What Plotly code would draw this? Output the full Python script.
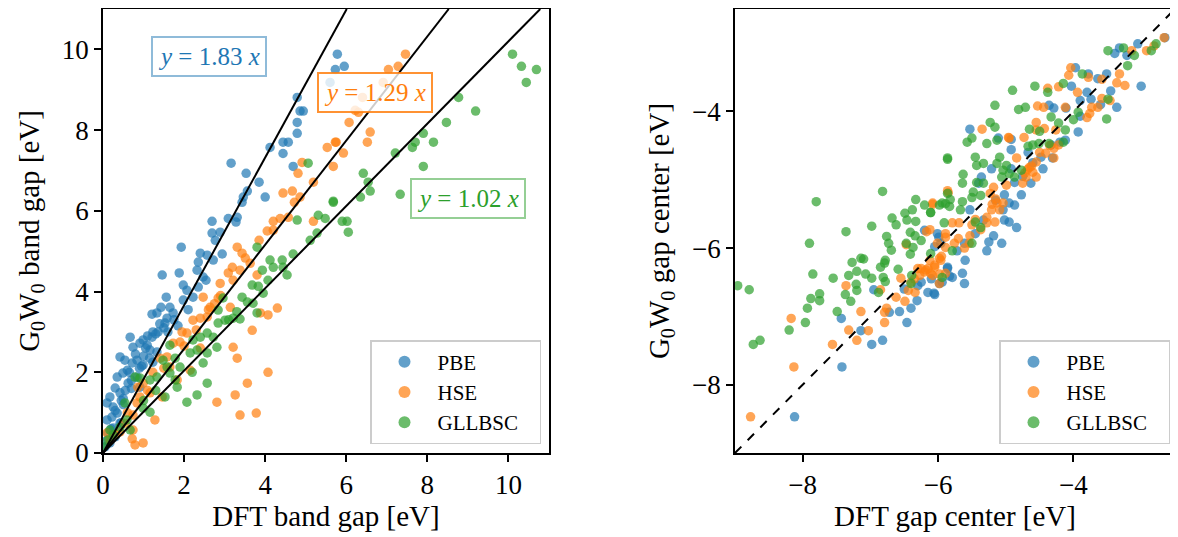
import plotly.graph_objects as go

# ---------------- Left panel: band gaps ----------------
pbe_gap_dft = [5.78,5.95,5.73,5.6,4.79,4.86,4.94,4.79,4.79,4.12,4.44,4.57,4.44,4.69,3.16,3.53,3.85,4.0,3.56,3.46,3.43,
               2.69,3.09,3.31,3.28,2.69,2.89,2.77,1.93,2.4,2.57,2.35,2.94,2.72,2.32,2.47,2.54,1.46,1.88,1.98,2.07,2.35,
               2.22,1.56,1.98,1.43,1.65,1.73,1.21,1.33,1.58,1.53,1.23,1.36,1.21,0.99,0.67,0.74,0.91,1.09,1.16,1.33,0.42,
               0.54,0.72,0.84,0.99,1.23,0.35,0.49,0.62,0.84,0.91,0.3,0.42,0.17,0.1,0.25,0.22,0.1,0.35,0.25,0.42,0.12,0.3,
               0.17,0.6,0.8,1.0,1.1,0.5,0.7,1.3,1.5,0.05,0.08,1.4,1.6,1.75,1.05,0.65,0.45,2.1,1.85,0.95,0.55,
               0.3,0.5,0.7,0.9,1.15,0.2,0.45]
pbe_gap_gw = [9.88,9.58,9.5,9.18,8.81,8.47,8.47,8.19,7.92,7.57,7.7,7.7,7.42,7.1,7.18,6.93,6.71,6.34,6.49,6.34,6.21,
              5.74,5.81,5.84,5.72,5.45,5.47,5.27,5.1,4.95,4.9,4.73,4.93,4.78,4.53,4.36,4.28,4.41,4.46,4.16,4.03,4.11,
              3.86,3.86,3.79,3.61,3.61,3.47,3.44,3.47,3.34,3.22,3.0,3.0,2.87,2.8,2.87,2.62,2.72,2.67,2.55,2.5,2.38,
              2.3,2.23,2.3,2.18,2.25,1.88,1.98,1.73,1.88,1.63,1.61,1.49,1.39,1.24,1.14,0.89,0.82,0.99,0.62,0.74,0.5,0.4,
              0.25,2.05,2.45,2.4,2.9,1.2,1.6,2.95,3.1,0.15,0.3,3.2,3.0,3.3,2.6,2.0,1.3,3.55,3.15,2.15,1.55,
              1.05,1.35,1.8,2.1,2.35,0.6,0.75]

hse_gap_dft = [7.46,7.28,7.04,6.91,6.4,6.22,6.3,6.07,6.59,6.52,5.73,5.93,5.68,5.53,5.75,4.91,4.81,5.19,4.44,4.67,4.72,
               4.86,4.2,4.37,4.57,4.05,4.2,5.19,3.85,3.31,3.43,3.51,3.63,3.19,3.38,3.09,3.8,2.89,3.21,2.47,2.64,2.84,
               2.22,2.4,2.57,3.14,3.88,4.07,4.3,3.68,1.95,2.07,1.73,1.9,3.21,3.31,2.4,1.41,1.58,4.07,3.56,3.26,2.81,
               3.38,3.78,1.23,0.99,0.86,0.91,0.84,1.28,0.74,0.54,0.74,0.99,0.79,0.72,0.1,0.17,0.42,1.46,1.16,1.83,2.15,
               1.65,2.6,2.75,1.1,0.6,2.0,2.3,1.5,0.3,2.9]
hse_gap_gw = [9.88,9.58,9.5,9.18,8.81,8.49,8.44,8.19,7.95,7.7,7.7,7.43,7.1,7.57,7.7,7.2,6.93,6.71,6.44,6.49,6.21,
              6.34,5.74,5.81,5.84,5.5,5.52,5.74,5.27,5.1,4.95,4.83,4.7,4.6,4.53,4.46,4.41,4.2,4.28,3.86,3.61,3.84,
              3.29,3.34,3.37,3.61,3.47,3.42,3.59,3.04,3.0,2.97,2.72,2.75,2.62,2.35,2.6,2.35,2.38,2.0,1.73,1.44,1.26,
              0.94,0.99,2.0,1.73,1.63,1.39,1.24,0.82,0.94,0.74,0.57,0.25,0.2,0.35,0.5,0.32,0.52,1.39,1.49,1.81,2.05,
              2.13,3.55,3.7,1.55,1.0,2.65,3.05,2.1,0.45,3.9]

gll_gap_dft = [10.1,10.32,10.69,10.44,8.77,9.19,8.47,7.9,7.7,8.15,7.63,7.21,7.9,6.42,6.54,6.59,6.35,7.33,5.68,5.9,6.05,
               5.06,5.68,5.31,5.48,6.02,5.28,5.11,4.79,4.69,4.42,4.44,4.2,4.12,4.54,3.8,3.93,4.07,3.68,3.83,3.95,3.43,
               3.56,3.7,3.8,2.96,2.84,3.01,2.84,3.21,3.38,2.57,2.4,2.22,2.72,2.81,2.32,2.57,2.15,1.65,1.78,1.58,1.9,2.2,
               2.47,1.48,1.83,1.78,1.65,1.33,1.16,0.91,0.79,2.07,2.32,2.57,1.53,1.16,0.99,0.54,0.59,0.42,0.67,0.25,0.12,
               0.0,0.17,3.1,3.3,1.3,1.0]
gll_gap_gw = [9.88,9.58,9.5,9.18,8.81,8.47,8.19,7.92,7.7,7.7,7.57,7.43,7.1,6.93,6.71,6.49,6.34,6.41,6.24,5.74,5.47,
              7.18,6.21,5.89,5.81,5.74,5.45,5.27,5.77,4.93,4.78,4.6,4.6,4.78,4.41,5.1,4.53,4.28,4.16,4.13,3.96,3.86,
              3.74,3.71,3.47,3.84,3.54,3.29,3.22,3.34,3.32,2.97,2.87,2.8,2.87,2.62,2.55,2.48,2.48,2.67,2.35,2.13,2.13,2.0,
              2.23,2.3,1.63,1.81,1.98,1.88,1.81,1.86,1.88,1.26,1.44,1.73,1.39,1.01,1.11,1.24,0.82,0.64,0.57,0.45,0.32,
              0.15,0.57,3.3,3.5,1.55,1.3]

# ---------------- Right panel: gap centers ----------------
pbe_c_dft = [-6.2,-6.05,-5.99,-5.86,-5.83,-5.98,-6.15,-6.05,-6.95,-6.31,-6.4,-6.57,-6.72,-7.43,-6.46,-7.14,-6.82,-6.98,
             -7.42,-8.12,-2.65,-3.05,-3.32,-3.39,-3.21,-3.0,-3.97,-3.78,-4.03,-3.64,-3.51,-3.8,-3.9,-3.74,-3.36,-3.9,
             -4.36,-4.29,-4.11,-3.93,-5.53,-5.11,-4.92,-4.12,-4.33,-4.92,-4.67,-4.48,-4.31,-5.21,-4.92,-4.45,-5.36,
             -5.4,-4.87,-4.63,-5.02,-4.77,-4.95,-5.53,-5.04,-4.87,-5.33,-5.02,-4.95,-4.84,-5.18,-5.06,-5.25,-5.28,
             -5.45,-5.61,-5.72,-5.6,-5.86,-5.79,-5.64,-5.61,-6.06,-5.94,-6.01,-5.96,-6.3,-6.5,-6.1,-6.25,
             -4.6,-4.75,-5.15,-3.6,-3.45,-4.2]
pbe_c_gw = [-5.74,-5.98,-5.84,-6.3,-6.41,-6.52,-6.65,-6.68,-6.61,-6.77,-6.88,-6.93,-6.94,-7.03,-7.09,-7.21,-7.35,-7.41,
            -7.74,-8.47,-2.92,-3.01,-3.07,-3.15,-3.18,-3.63,-3.36,-3.45,-3.63,-3.52,-3.45,-3.72,-3.84,-3.82,-3.94,-4.07,
            -3.91,-3.95,-3.95,-4.3,-4.26,-4.39,-4.41,-4.42,-4.49,-4.56,-4.6,-4.67,-4.68,-4.84,-4.84,-4.84,-4.96,
            -5.05,-5.04,-5.05,-5.22,-5.22,-5.34,-5.44,-5.44,-5.37,-5.59,-5.59,-5.62,-5.7,-5.82,-5.93,-5.91,-6.04,
            -5.79,-5.93,-6.04,-6.18,-6.28,-6.43,-6.37,-6.52,-6.66,-6.5,-5.79,-5.93,-6.55,-6.6,-6.45,-6.5,
            -4.75,-4.95,-5.3,-3.9,-3.7,-4.45]

hse_c_dft = [-5.85,-6.08,-6.17,-6.47,-5.89,-5.89,-6.12,-5.98,-6.05,-6.18,-6.27,-6.08,-5.98,-5.89,-6.55,-7.36,-6.85,-6.44,
             -6.34,-6.62,-6.49,-6.76,-7.14,-6.79,-6.79,-8.17,-7.32,-7.03,-7.2,-7.56,-8.13,-8.77,-2.66,-2.81,-2.92,-3.14,
             -3.32,-3.24,-3.36,-3.58,-4.04,-4.07,-3.78,-3.94,-4.38,-4.22,-3.58,-3.46,-3.64,-3.73,-3.76,-3.8,-4.53,-4.44,
             -4.12,-5.35,-4.55,-4.95,-4.73,-4.26,-4.43,-4.55,-4.22,-4.29,-4.41,-4.29,-4.55,-4.65,-4.6,-4.7,-4.55,-4.84,
             -4.75,-4.99,-5.18,-5.23,-5.13,-5.04,-5.21,-5.09,-5.28,-5.16,-5.28,-5.37,-5.53,-5.54,-5.61,-5.76,-5.79,-5.69,
             -5.89,-6.01,-5.96,-6.05,-6.11,-5.98,-6.08,-5.86,-6.12,-4.96,-6.3,-6.2,-6.35,-6.4,-6.25,
             -4.68,-4.62,-4.72,-5.15,-5.2,-5.45,-5.5,-5.7,-5.95,-6.15,-4.5,-4.35]
hse_c_gw = [-5.19,-5.36,-5.76,-5.95,-5.84,-5.99,-6.18,-6.15,-6.25,-6.32,-6.4,-6.4,-6.38,-6.37,-6.44,-6.55,-6.61,-6.62,
            -6.65,-6.72,-6.78,-6.88,-6.93,-6.94,-7.09,-7.03,-7.2,-7.21,-7.35,-7.41,-7.74,-8.47,-2.92,-3.04,-3.11,-3.11,
            -3.45,-3.62,-3.58,-3.53,-3.36,-3.47,-3.5,-3.72,-3.66,-3.64,-3.81,-3.84,-3.94,-3.94,-4.03,-4.09,-3.92,-3.94,
            -3.94,-4.26,-4.16,-4.39,-4.38,-4.27,-4.25,-4.27,-4.49,-4.54,-4.61,-4.68,-4.74,-4.82,-4.89,-4.96,-4.96,-4.68,
            -5.05,-5.08,-5.11,-5.2,-5.34,-5.34,-5.44,-5.44,-5.55,-5.62,-5.63,-5.73,-5.82,-5.93,-6.0,-5.93,-5.63,-5.63,
            -5.79,-5.93,-6.18,-6.28,-6.37,-6.52,-5.34,-5.16,-5.73,-4.38,-6.3,-6.35,-6.45,-6.5,-6.3,
            -4.85,-4.8,-4.9,-5.28,-5.36,-5.58,-5.66,-5.86,-6.12,-6.3,-4.6,-4.5]

gll_c_dft = [-5.86,-6.82,-7.8,-6.33,-6.2,-6.11,-5.98,-5.89,-6.49,-6.38,-6.68,-6.62,-6.46,-6.33,-7.36,-6.98,-6.41,-6.76,
             -6.34,-6.25,-7.9,-6.73,-6.47,-6.37,-6.69,-6.41,-7.14,-7.1,-7.27,-6.78,-6.79,-6.85,-6.59,-7.2,-7.07,-7.32,
             -7.85,-7.55,-6.98,-6.81,-6.78,-7.21,-8.96,-8.79,-7.2,-7.37,-6.88,-7.75,-7.88,-7.75,-7.29,-7.93,-7.49,-7.96,
             -8.2,-8.63,-8.73,-6.39,-6.4,-3.49,-3.26,-2.85,-2.78,-3.1,-3.2,-3.87,-4.15,-4.9,-4.57,-4.38,-5.16,-4.81,-4.71,
             -3.51,-3.49,-3.93,-4.0,-4.22,-4.12,-4.33,-5.23,-5.16,-4.65,-4.5,-5.57,-5.5,-5.28,-5.13,-4.67,-4.6,-4.51,-4.36,
             -4.15,-5.86,-5.45,-5.33,-5.09,-5.43,-5.13,-4.99,-5.04,-4.95,-4.77,-5.63,-5.06,-4.87,-5.64,-5.43,-5.33,-5.48,
             -5.5,-5.37,-5.86,-5.94,-5.82,-5.83,-5.64,-5.67,-6.11,-5.91,-5.45,-5.37,-5.79,-5.5,-6.11,-5.94]
gll_c_gw = [-4.7,-5.17,-5.32,-5.29,-5.37,-5.48,-5.37,-5.35,-5.49,-5.44,-5.56,-5.66,-5.59,-5.61,-5.76,-5.68,-5.77,-5.83,
            -5.82,-5.89,-5.93,-5.93,-5.93,-5.99,-6.03,-6.09,-6.15,-6.16,-6.21,-6.18,-6.22,-6.28,-6.31,-6.34,-6.38,-6.4,
            -6.38,-6.44,-6.44,-6.43,-6.49,-6.53,-6.55,-6.61,-6.62,-6.68,-6.65,-6.67,-6.74,-6.77,-6.78,-6.88,-6.93,-7.09,
            -7.2,-7.35,-7.41,-6.4,-6.52,-3.11,-3.07,-3.11,-3.01,-3.18,-3.33,-3.45,-3.59,-3.69,-3.63,-3.72,-3.91,-3.97,-3.94,
            -4.11,-3.82,-4.01,-4.12,-4.17,-4.27,-4.08,-4.16,-4.23,-4.26,-4.29,-4.45,-4.39,-4.47,-4.42,-4.51,-4.49,-4.47,-4.47,
            -4.45,-4.68,-4.67,-4.76,-4.67,-4.79,-4.76,-4.79,-4.86,-4.91,-4.86,-4.92,-4.96,-4.96,-5.05,-5.04,-5.05,-5.18,
            -5.26,-5.23,-5.2,-5.34,-5.29,-5.39,-5.32,-5.44,-5.48,-5.63,-5.62,-5.7,-6.04,-5.93,-6.08,-6.43]

methods = ["PBE", "HSE", "GLLBSC"]
colors = ["#1f77b4", "#ff7f0e", "#2ca02c"]
slopes = [1.83, 1.29, 1.02]
slope_text = ["1.83", "1.29", "1.02"]

FONT = "Liberation Serif"
OFF = 8                      # page body margin
W, H = 1178 - OFF, 537 - OFF
PAD = "\u00a0\u00a0\u00a0"    # widen legend box slightly


def px(x):
    return (x - OFF) / W


def py(y):
    return 1 - (y - OFF) / H


fig = go.Figure()

left_data = [(pbe_gap_dft, pbe_gap_gw), (hse_gap_dft, hse_gap_gw), (gll_gap_dft, gll_gap_gw)]
right_data = [(pbe_c_dft, pbe_c_gw), (hse_c_dft, hse_c_gw), (gll_c_dft, gll_c_gw)]

for name, col, (xs, ys) in zip(methods, colors, left_data):
    fig.add_trace(go.Scatter(x=xs, y=ys, mode="markers", name=name + PAD, legend="legend",
                             marker=dict(color=col, size=9.5, opacity=0.7, line=dict(width=0)),
                             xaxis="x", yaxis="y"))

for s in slopes:
    xe = min(11.0 / s, 11.0)
    fig.add_trace(go.Scatter(x=[0, xe], y=[0, s * xe], mode="lines", showlegend=False,
                             line=dict(color="black", width=2), xaxis="x", yaxis="y", hoverinfo="skip"))

for name, col, (xs, ys) in zip(methods, colors, right_data):
    fig.add_trace(go.Scatter(x=xs, y=ys, mode="markers", name=name + PAD, legend="legend2",
                             marker=dict(color=col, size=9.5, opacity=0.7, line=dict(width=0)),
                             xaxis="x2", yaxis="y2"))

fig.add_trace(go.Scatter(x=[-9, -2.5], y=[-9, -2.5], mode="lines", showlegend=False,
                         line=dict(color="black", width=2, dash="dash"), xaxis="x2", yaxis="y2",
                         hoverinfo="skip"))

ann_pos = [(2.62, 9.83), (6.72, 8.94), (9.01, 6.31)]
border_cols = ["rgba(31,119,180,0.5)", "rgba(255,127,14,0.85)", "rgba(44,160,44,0.5)"]
annotations = []
for st, col, bc, (ax_, ay_) in zip(slope_text, colors, border_cols, ann_pos):
    annotations.append(dict(x=ax_, y=ay_, xref="x", yref="y",
                            text="<i>y</i> = " + st + " <i>x</i>", showarrow=False,
                            font=dict(family=FONT, size=25, color=col),
                            bgcolor="rgba(255,255,255,0.8)", bordercolor=bc, borderwidth=2,
                            borderpad=5))

axis_common = dict(showline=True, linecolor="black", linewidth=1.5, mirror=True,
                   ticks="outside", ticklen=7, tickwidth=1.5, tickcolor="black",
                   showgrid=False, zeroline=False, automargin=False,
                   tickfont=dict(family=FONT, size=27, color="black"),
                   title_font=dict(family=FONT, size=29, color="black"))

legend_common = dict(font=dict(family=FONT, size=21, color="black"),
                     bgcolor="rgba(255,255,255,0.8)", bordercolor="#cccccc", borderwidth=1.5,
                     xanchor="right", yanchor="bottom", itemsizing="constant", itemwidth=56,
                     tracegroupgap=0)

fig.update_layout(
    width=W, height=H,
    margin=dict(l=0, r=0, t=0, b=0, autoexpand=False),
    plot_bgcolor="white", paper_bgcolor="white",
    xaxis=dict(axis_common, domain=[px(103), px(549)], range=[0, 11], tickvals=[0, 2, 4, 6, 8, 10],
               title=dict(text="DFT band gap [eV]", standoff=6), anchor="y"),
    yaxis=dict(axis_common, domain=[py(453), py(9)], range=[0, 11], tickvals=[0, 2, 4, 6, 8, 10],
               title=dict(text="G<sub>0</sub>W<sub>0</sub> band gap [eV]", standoff=14), anchor="x"),
    xaxis2=dict(axis_common, domain=[px(735), px(1175)], range=[-9, -2.5], tickvals=[-8, -6, -4],
                title=dict(text="DFT gap center [eV]", standoff=6), anchor="y2"),
    yaxis2=dict(axis_common, domain=[py(453), py(9)], range=[-9, -2.5], tickvals=[-8, -6, -4],
                title=dict(text="G<sub>0</sub>W<sub>0</sub> gap center [eV]", standoff=14), anchor="x2"),
    legend=dict(legend_common, x=px(541), y=py(444)),
    legend2=dict(legend_common, x=px(1170), y=py(444)),
    annotations=annotations,
    showlegend=True,
)

fig.write_html("out.html")
